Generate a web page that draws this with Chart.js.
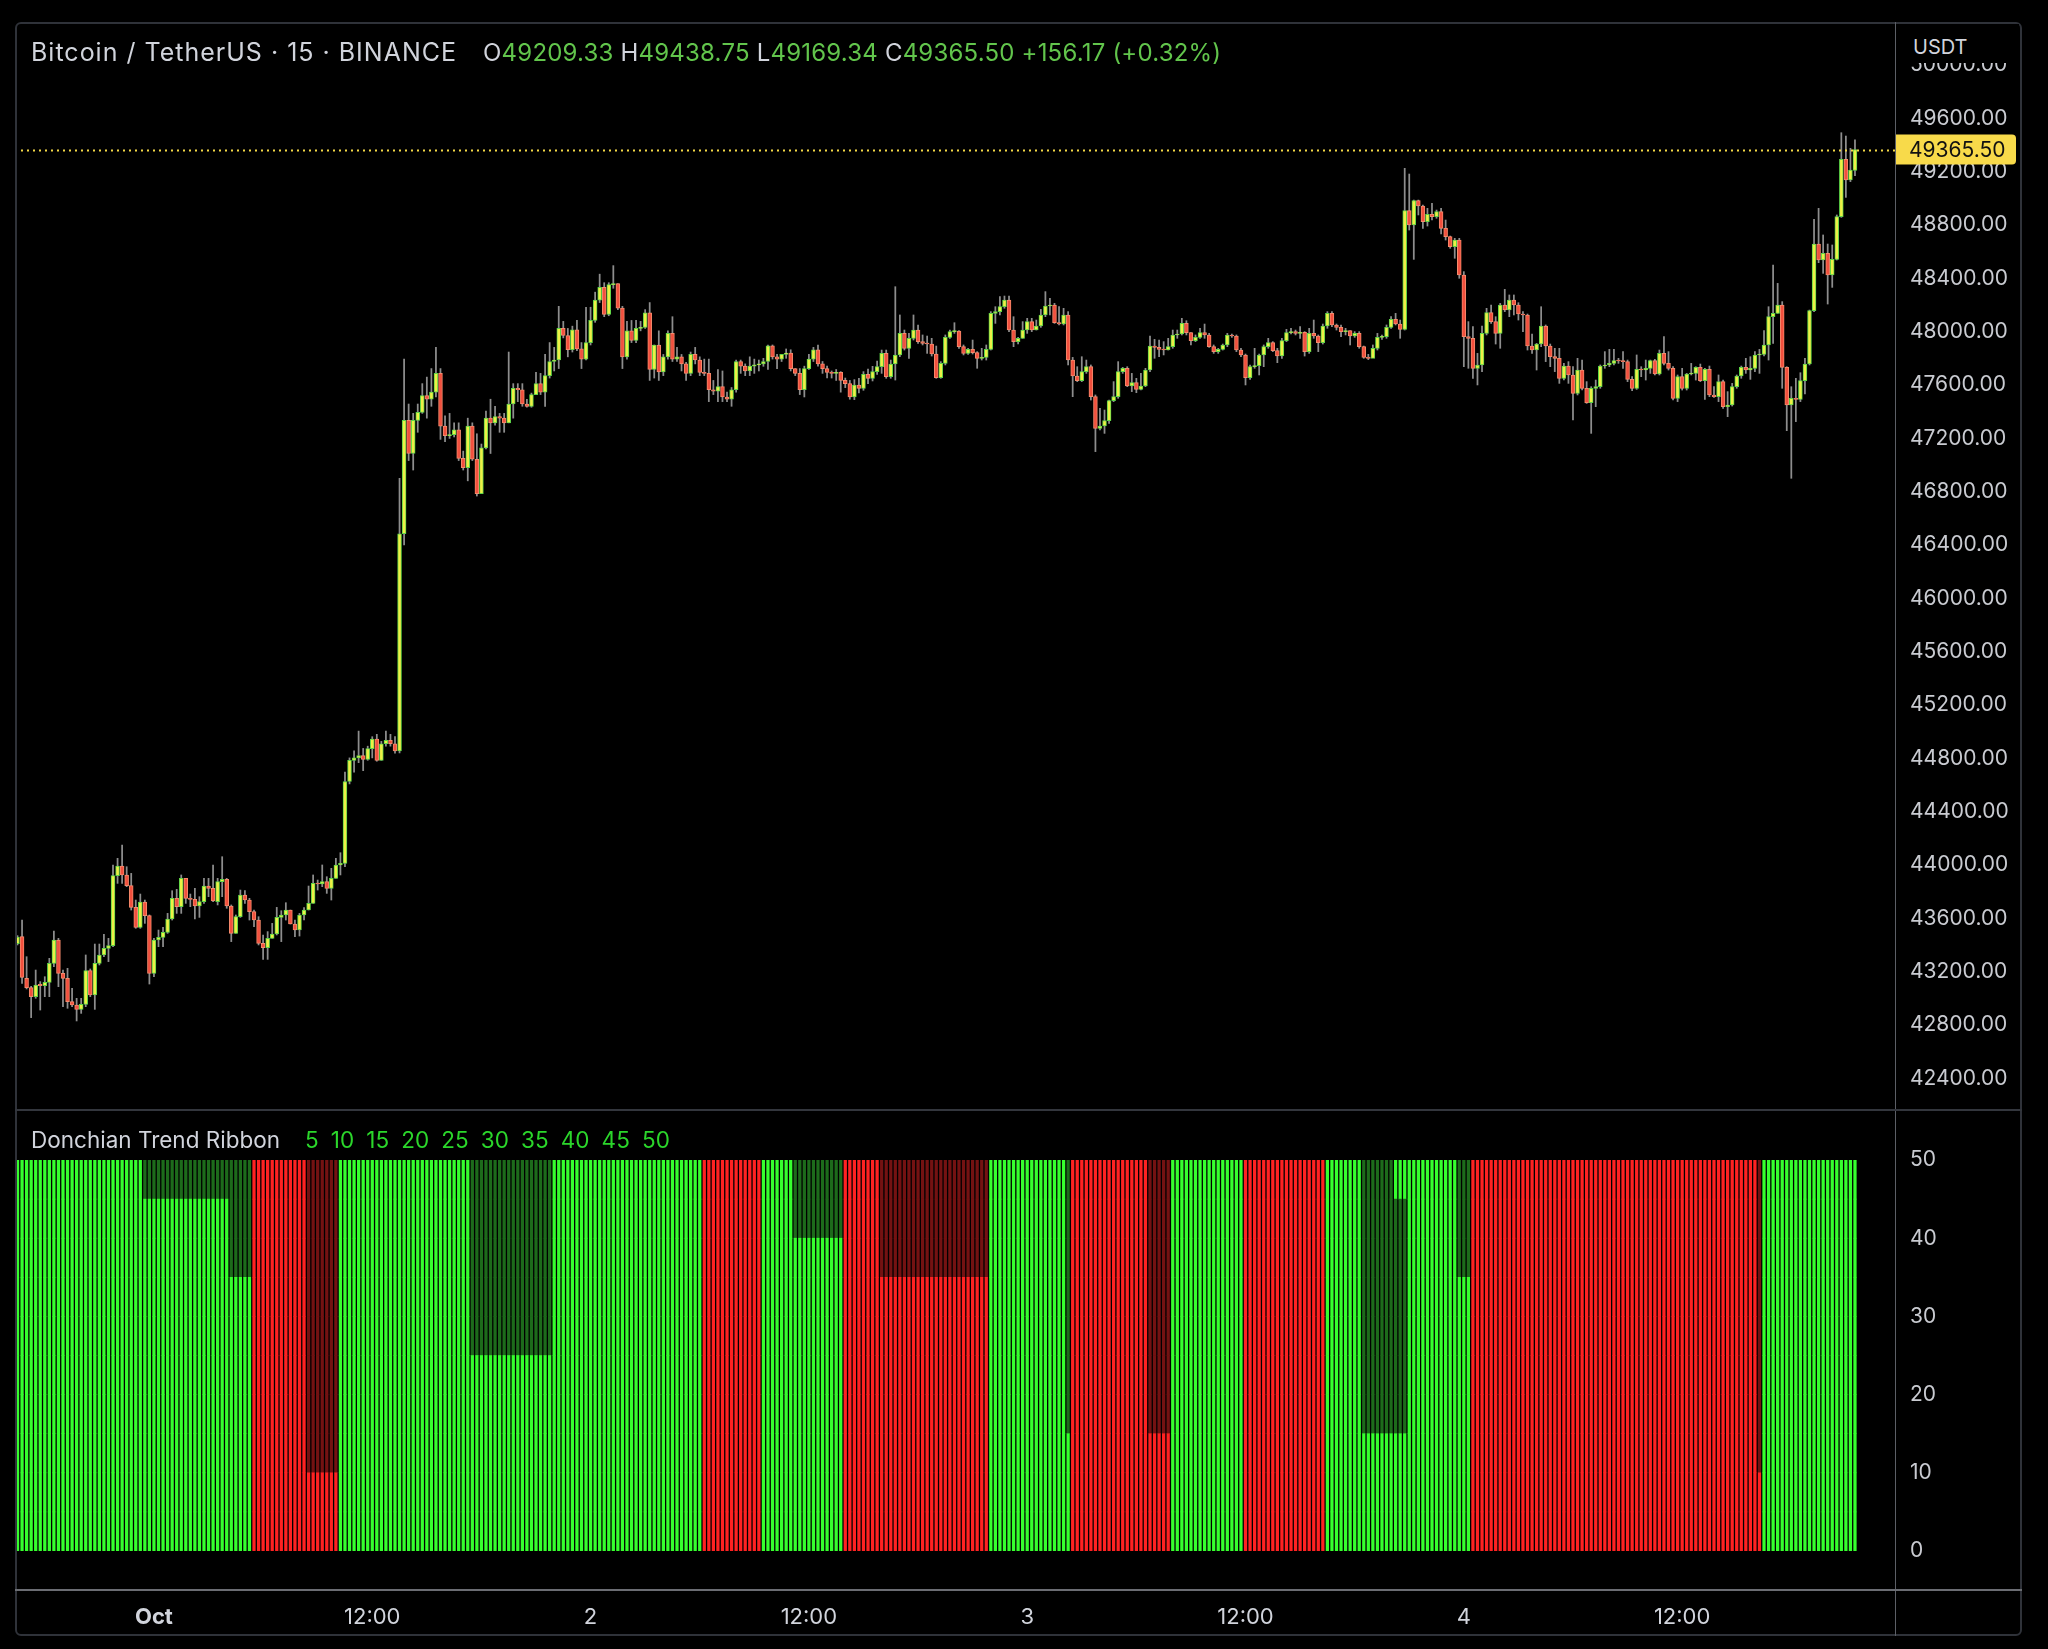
<!DOCTYPE html>
<html>
<head>
<meta charset="utf-8">
<script src="https://cdn.jsdelivr.net/npm/chart.js@4.4.1/dist/chart.umd.min.js"></script>
<style>
    html, body { margin: 0; padding: 0; background: #000; }
    body { width: 2048px; height: 1649px; position: relative; overflow: hidden; font-family: Inter, "Noto Sans", sans-serif; }
    canvas { position: absolute; left: 0; }
    #mainCanvas { top: 0; }
    #ribbonCanvas { top: 1110px; }
    .frame { position: absolute; left: 15px; top: 22px; width: 2007px; height: 1614px; border: 2px solid #2f3239; border-radius: 6px; box-sizing: border-box; }
    .axis-sep { position: absolute; left: 1895px; top: 22px; width: 1px; height: 1614px; background: #5c5f66; }
    .pane-sep { position: absolute; left: 15px; top: 1109px; width: 2007px; height: 2px; background: #33363d; }
    .time-sep { position: absolute; left: 15px; top: 1589px; width: 2007px; height: 2px; background: #6b6d73; }
    .usdt-cover { position: absolute; left: 1897px; top: 24px; width: 122px; height: 39px; background: #000; }
    .usdt { position: absolute; left: 1913px; top: 35px; font-size: 20px; line-height: 24px; color: #d1d4dc; }
    .header { position: absolute; left: 31px; top: 37px; font-size: 24px; line-height: 30px; color: #d1d4dc; white-space: nowrap; }
    .header .title { font-size: 25px; letter-spacing: 1px; }
    .header .ohlc { margin-left: 26px; letter-spacing: 0.2px; }
    .header .v { color: #62c54c; }
    .legend { position: absolute; left: 31px; top: 1126px; font-size: 22.5px; line-height: 28px; color: #d1d4dc; white-space: nowrap; }
    .legend .lens { margin-left: 25px; color: #2bd62b; word-spacing: 5.8px; }
</style>
</head>
<body>
<canvas id="mainCanvas" width="2048" height="1110"></canvas>
<canvas id="ribbonCanvas" width="2048" height="526"></canvas>
<div class="frame"></div>
<div class="axis-sep"></div>
<div class="pane-sep"></div>
<div class="time-sep"></div>
<div class="usdt-cover"></div>
<div class="usdt">USDT</div>
<div class="header"><span class="title">Bitcoin / TetherUS · 15 · BINANCE</span><span class="ohlc">O<span class="v">49209.33</span> H<span class="v">49438.75</span> L<span class="v">49169.34</span> C<span class="v">49365.50</span> <span class="v">+156.17 (+0.32%)</span></span></div>
<div class="legend">Donchian Trend Ribbon<span class="lens">5 10 15 20 25 30 35 40 45 50</span></div>

<script>
// 15 minute bars, bar 0 = Sep 30 16:30, bar 404 = Oct 4 21:30
const opens = [
    43410,43462,43150,43080,43012,43105,43095,43120,43262,43437,
    43187,43150,42975,42950,42917,42955,43207,43025,43262,43325,
    43375,43395,43920,43992,43925,43845,43682,43532,43722,43620,
    43187,43437,43457,43495,43595,43750,43687,43900,43750,43742,
    43692,43725,43842,43825,43725,43875,43892,43692,43487,43612,
    43775,43737,43650,43587,43412,43380,43450,43482,43607,43625,
    43662,43557,43512,43625,43662,43712,43862,43857,43875,43825,
    43900,44000,44012,44626,44785,44803,44820,44792,44873,44944,
    44785,44909,44934,44909,44856,46484,47334,47086,47334,47394,
    47521,47493,47546,47687,47291,47220,47227,47263,47050,46980,
    47291,47043,46785,47128,47351,47316,47362,47351,47316,47457,
    47574,47564,47457,47440,47528,47610,47546,47670,47776,47787,
    48024,47971,47864,48013,47871,47794,47918,48084,48236,48332,
    48130,48353,48360,48176,47811,48006,47935,48024,48031,48141,
    47716,47900,47698,47811,47988,47794,47811,47758,47687,47829,
    47787,47694,47687,47564,47553,47588,47510,47493,47564,47776,
    47741,47705,47741,47751,47758,47776,47893,47811,47794,47829,
    47840,47723,47687,47564,47723,47794,47864,47758,47723,47694,
    47687,47694,47634,47610,47510,47600,47575,47680,47650,47700,
    47737,47837,47662,47757,47825,47987,47875,47950,48012,47925,
    47912,47907,47832,47655,47762,47957,48000,48005,47887,47837,
    47867,47842,47800,47807,47867,48137,48150,48187,48237,48012,
    47925,47950,48012,48075,48012,48042,48125,48192,48200,48067,
    48057,48125,47787,47667,47632,47700,47737,47512,47275,47292,
    47332,47482,47512,47700,47725,47592,47617,47567,47592,47712,
    47892,47882,47867,47862,47887,47975,47982,48062,47992,47932,
    47957,47992,47975,47887,47850,47867,47900,47975,47967,47862,
    47825,47655,47737,47745,47825,47887,47917,47857,47817,47932,
    47992,48000,47987,47995,47850,47987,47967,47917,48042,48137,
    48050,48032,48000,48007,47967,47987,47887,47807,47800,47875,
    47957,47962,48032,48092,48057,48017,48907,48800,48982,48942,
    48825,48880,48862,48900,48775,48712,48637,48687,48425,47962,
    47950,47725,47750,47987,48142,48075,47987,48200,48162,48237,
    48200,48132,48125,47892,47862,47907,48042,47892,47812,47800,
    47650,47742,47675,47537,47712,47575,47467,47575,47587,47742,
    47750,47762,47782,47780,47775,47642,47575,47717,47712,47725,
    47782,47682,47837,47762,47725,47500,47662,47575,47682,47687,
    47732,47632,47717,47525,47512,47625,47437,47450,47587,47667,
    47732,47712,47725,47825,47830,47900,48112,48137,48200,47732,
    47450,47500,47492,47632,47757,48157,48657,48537,48587,48425,
    48542,48862,49292,49137,49209.33
];
const highs = [
    43470,43587,43312,43090,43212,43125,43162,43300,43505,43450,
    43212,43225,43075,43000,43000,43325,43220,43407,43407,43480,
    43450,44000,44050,44150,43987,43937,43737,43782,43737,43625,
    43450,43512,43532,43637,43807,43817,43925,43900,43782,43825,
    43762,43900,43900,44000,43900,44062,43900,43700,43625,43812,
    43807,43750,43662,43612,43475,43500,43562,43682,43657,43717,
    43662,43587,43637,43680,43842,43925,43887,44000,43912,43975,
    44050,44092,44696,44803,44856,45004,44874,44891,44962,44980,
    44927,45004,44980,44962,46900,47794,47457,47387,47457,47610,
    47659,47723,47882,47723,47369,47387,47316,47316,47104,47351,
    47316,47234,47157,47404,47493,47440,47387,47387,47847,47610,
    47610,47610,47493,47539,47694,47687,47829,47918,47882,48190,
    48077,48024,48041,48084,47918,48183,48183,48296,48431,48367,
    48367,48495,48360,48190,48077,48084,48084,48077,48165,48218,
    47900,48006,47829,48006,48112,47882,47829,47770,47847,47882,
    47811,47794,47794,47634,47716,47705,47546,47581,47787,47787,
    47758,47811,47794,47787,47800,47900,47900,47829,47829,47870,
    47864,47723,47723,47741,47829,47882,47900,47776,47741,47705,
    47716,47700,47652,47634,47640,47650,47700,47720,47740,47780,
    47862,47862,47787,48337,48125,48012,47987,48125,48050,47975,
    47967,47950,47892,47775,47975,48012,48067,48007,47900,47875,
    47937,47850,47875,47900,48150,48187,48262,48267,48267,48112,
    47957,48075,48100,48100,48087,48167,48300,48250,48212,48187,
    48175,48150,47807,47737,47812,47787,47750,47525,47425,47412,
    47487,47625,47775,47732,47737,47687,47650,47687,47725,47967,
    47942,47937,47925,47950,48012,48012,48100,48082,47992,47975,
    48025,48057,47987,47900,47875,47907,47987,47982,47975,47875,
    47832,47750,47875,47832,47900,47950,47925,47875,47950,48017,
    48025,48012,48037,48000,48025,48087,47975,48057,48150,48150,
    48057,48050,48025,48007,48000,48000,47892,47830,47900,47987,
    47975,48050,48112,48137,48087,49225,49182,48987,48987,48950,
    48925,48962,48912,48925,48837,48717,48700,48700,48450,48075,
    48037,47837,48042,48175,48200,48112,48212,48317,48275,48275,
    48217,48150,48132,47982,47912,48187,48050,47907,47875,47875,
    47762,47775,47737,47800,47787,47625,47587,47637,47750,47850,
    47867,47867,47800,47850,47787,47662,47825,47737,47787,47787,
    47792,47862,47962,47850,47737,47675,47725,47687,47762,47737,
    47757,47725,47742,47587,47675,47637,47550,47612,47675,47742,
    47800,47812,47850,47867,48007,48187,48500,48362,48225,47737,
    47587,47650,47692,47800,48162,48842,48925,48725,48657,48650,
    48875,49492,49467,49375,49438.75
];
const lows = [
    43400,43112,43070,42855,43000,42912,43012,43012,43237,43087,
    42937,42925,42937,42830,42887,42937,43012,42917,43250,43312,
    43275,43387,43862,43862,43837,43662,43525,43525,43562,43107,
    43162,43387,43387,43487,43587,43637,43637,43712,43687,43595,
    43607,43712,43762,43725,43700,43762,43675,43425,43487,43607,
    43712,43587,43537,43400,43292,43292,43450,43475,43425,43587,
    43557,43462,43467,43587,43662,43712,43812,43837,43787,43737,
    43900,43925,43988,44608,44696,44767,44707,44785,44803,44778,
    44785,44891,44891,44838,44840,46400,47033,46962,47245,47387,
    47351,47440,47510,47192,47174,47199,47210,47033,46962,46881,
    47033,46767,46785,47121,47086,47298,47245,47245,47316,47351,
    47475,47440,47433,47433,47528,47528,47440,47652,47705,47723,
    47953,47811,47847,47857,47723,47787,47900,48070,48218,48112,
    48119,48325,48165,47723,47794,47918,47918,48006,48024,47634,
    47652,47634,47670,47794,47776,47776,47705,47634,47670,47758,
    47670,47670,47475,47528,47475,47475,47475,47440,47546,47687,
    47670,47670,47687,47705,47740,47716,47794,47723,47776,47800,
    47705,47670,47528,47510,47716,47776,47741,47687,47652,47652,
    47634,47546,47580,47493,47490,47540,47560,47610,47630,47680,
    47687,47650,47650,47637,47812,47862,47800,47937,47912,47900,
    47837,47817,47650,47650,47750,47950,47987,47875,47825,47830,
    47832,47725,47787,47787,47862,48062,48125,48175,48000,47887,
    47907,47950,47987,48000,48012,48032,48112,48125,48062,48050,
    48050,47750,47512,47625,47625,47687,47487,47100,47262,47237,
    47312,47475,47500,47687,47587,47550,47542,47562,47587,47700,
    47800,47812,47825,47862,47875,47950,47975,47975,47900,47925,
    47950,47950,47882,47837,47837,47862,47887,47957,47850,47812,
    47600,47642,47725,47675,47737,47875,47850,47767,47800,47925,
    47982,47975,47950,47817,47837,47950,47850,47907,48025,48037,
    48012,47962,47975,47900,47957,47875,47800,47790,47812,47862,
    47942,47950,48025,48050,47950,48012,48762,48542,48875,48775,
    48792,48837,48850,48732,48687,48625,48550,48400,47737,47725,
    47650,47600,47700,47975,48062,47907,47875,48150,48112,48125,
    48087,48000,47862,47837,47712,47887,47775,47737,47700,47612,
    47637,47612,47337,47525,47562,47462,47237,47437,47575,47725,
    47737,47750,47762,47725,47625,47557,47567,47662,47637,47687,
    47675,47675,47750,47712,47487,47475,47562,47562,47675,47637,
    47625,47492,47512,47507,47475,47425,47362,47442,47575,47650,
    47687,47642,47700,47687,47817,47787,47912,48137,47575,47257,
    46900,47325,47475,47532,47750,48150,48517,48437,48207,48332,
    48537,48857,49007,49125,49169.34
];
const closes = [
    43460,43157,43080,43012,43100,43095,43120,43262,43437,43187,
    43150,42975,42950,42917,42955,43207,43025,43262,43325,43375,
    43395,43920,43992,43925,43845,43682,43532,43722,43620,43187,
    43437,43457,43495,43595,43750,43687,43900,43750,43742,43692,
    43725,43842,43825,43730,43875,43892,43692,43487,43612,43775,
    43737,43650,43587,43412,43380,43450,43482,43607,43625,43662,
    43557,43512,43625,43662,43712,43862,43857,43875,43825,43900,
    44000,44012,44626,44785,44803,44820,44792,44873,44944,44785,
    44909,44934,44909,44856,46484,47334,47086,47334,47394,47521,
    47493,47546,47687,47291,47220,47227,47263,47050,46980,47291,
    47043,46785,47128,47351,47316,47362,47351,47316,47457,47574,
    47564,47457,47440,47528,47610,47546,47670,47776,47787,48024,
    47971,47864,48013,47871,47794,47918,48084,48236,48332,48130,
    48353,48360,48176,47811,48006,47935,48024,48031,48141,47716,
    47900,47698,47811,47988,47794,47811,47758,47687,47829,47787,
    47694,47687,47564,47553,47588,47510,47493,47564,47776,47741,
    47705,47741,47751,47758,47776,47893,47811,47794,47829,47840,
    47723,47687,47564,47723,47794,47864,47758,47723,47694,47687,
    47694,47634,47610,47510,47600,47575,47680,47650,47700,47737,
    47837,47662,47757,47825,47987,47875,47950,48012,47925,47912,
    47907,47832,47655,47762,47957,48000,48005,47887,47837,47867,
    47842,47800,47807,47867,48137,48150,48187,48237,48012,47925,
    47950,48012,48075,48012,48042,48125,48192,48200,48067,48057,
    48125,47787,47667,47632,47700,47737,47512,47275,47292,47332,
    47482,47512,47700,47725,47592,47617,47567,47592,47712,47892,
    47882,47867,47862,47887,47975,47982,48062,47992,47932,47957,
    47992,47975,47887,47850,47867,47900,47975,47967,47862,47825,
    47655,47737,47745,47825,47887,47917,47857,47817,47932,47992,
    48000,47987,47995,47850,47987,47967,47917,48042,48137,48050,
    48032,48000,48007,47967,47987,47887,47807,47800,47875,47957,
    47962,48032,48092,48057,48017,48907,48800,48982,48942,48825,
    48880,48862,48900,48775,48712,48637,48687,48425,47962,47950,
    47725,47750,47987,48142,48075,47987,48200,48162,48237,48200,
    48132,48125,47892,47862,47907,48042,47892,47812,47800,47650,
    47742,47675,47537,47712,47575,47467,47575,47587,47742,47750,
    47762,47782,47780,47775,47642,47575,47717,47712,47725,47782,
    47682,47837,47762,47725,47500,47662,47575,47682,47687,47732,
    47632,47717,47525,47512,47625,47437,47450,47587,47667,47732,
    47712,47725,47825,47830,47900,48112,48137,48200,47732,47450,
    47500,47492,47632,47757,48157,48657,48537,48587,48425,48542,
    48862,49292,49137,49212,49365.5
];

const priceTicks = [42400, 42800, 43200, 43600, 44000, 44400, 44800, 45200, 45600, 46000,
    46400, 46800, 47200, 47600, 48000, 48400, 48800, 49200, 49600, 50000];
const timeTickBars = [30, 78, 126, 174, 222, 270, 318, 366];
const timeTickLabels = ['Oct', '12:00', '2', '12:00', '3', '12:00', '4', '12:00'];

// ribbon: trend switches (first bar of each run) and weak bands [from bar, to bar, low value, high value]
const trendStarts = [0, 52, 71, 151, 164, 182, 214, 232, 254, 270, 288, 320, 384];
const trendDirs = [1, -1, 1, -1, 1, -1, 1, -1, 1, -1, 1, -1, 1];
const weakRuns = [
    [28, 46, 45, 50], [47, 51, 35, 50], [64, 70, 10, 50], [100, 117, 25, 50],
    [171, 181, 40, 50], [190, 213, 35, 50], [231, 231, 15, 50], [249, 253, 15, 50],
    [296, 302, 15, 50], [303, 305, 15, 45], [317, 319, 35, 50], [383, 383, 10, 50]
];
const ribbonLevels = [0, 5, 10, 15, 20, 25, 30, 35, 40, 45];
const ribbonTicks = [0, 10, 20, 30, 40, 50];

document.addEventListener('DOMContentLoaded', function () {
    Chart.defaults.font.family = 'Inter, "Noto Sans", sans-serif';
    Chart.defaults.animation = false;

    const xMin = -0.55;
    const xMax = 412.8;
    const priceMin = 42162.25;
    const priceMax = 50322.25;
    const lastClose = closes[closes.length - 1];

    // keep the right axis from eating vertical room for its labels
    const fitRightAxis = s => {
        s.width = 153;
        s.paddingTop = 0;
        s.paddingBottom = 0;
    };

    // 1. Main candle pane
    const bodies = opens.map((o, i) => ({ x: i, y: [o, closes[i]] }));
    const wicks = highs.map((h, i) => ({ x: i, y: [lows[i], h] }));
    const isUp = opens.map((o, i) => closes[i] >= o);

    const lastPricePlugin = {
        id: 'lastPrice',
        afterDatasetsDraw(chart) {
            const { ctx, chartArea, scales } = chart;
            const y = Math.round(scales.y.getPixelForValue(lastClose)) + 0.5;
            ctx.save();
            ctx.strokeStyle = '#f3d846';
            ctx.lineWidth = 2;
            ctx.setLineDash([2, 4]);
            ctx.beginPath();
            ctx.moveTo(chartArea.left, y);
            ctx.lineTo(chartArea.right, y);
            ctx.stroke();
            ctx.restore();
        },
        afterDraw(chart) {
            const { ctx, chartArea, scales } = chart;
            const y = scales.y.getPixelForValue(lastClose);
            const x = chartArea.right;
            ctx.save();
            ctx.fillStyle = '#f8da4a';
            ctx.beginPath();
            ctx.roundRect(x, y - 15, 121, 30, [0, 4, 4, 0]);
            ctx.fill();
            ctx.fillStyle = '#111';
            ctx.font = '21px Inter';
            ctx.textBaseline = 'middle';
            ctx.fillText(lastClose.toFixed(2), x + 14, y + 1);
            ctx.restore();
        }
    };

    new Chart(document.getElementById('mainCanvas'), {
        type: 'bar',
        data: {
            datasets: [{
                data: bodies,
                order: 1,
                grouped: false,
                barThickness: 3.9,
                minBarLength: 1,
                borderWidth: 1,
                borderSkipped: false,
                backgroundColor: isUp.map(u => u ? '#eef046' : '#f2503e'),
                borderColor: isUp.map(u => u ? '#5ed447' : '#f58a6c')
            }, {
                data: wicks,
                order: 2,
                grouped: false,
                barThickness: 1.1,
                backgroundColor: '#8d8d8d'
            }]
        },
        options: {
            responsive: false,
            devicePixelRatio: 1,
            layout: { autoPadding: false, padding: { left: 15, top: 22, right: 0, bottom: 0 } },
            plugins: { legend: { display: false }, tooltip: { enabled: false } },
            scales: {
                x: { type: 'linear', min: xMin, max: xMax, offset: false, display: false },
                y: {
                    position: 'right',
                    min: priceMin,
                    max: priceMax,
                    beginAtZero: false,
                    grid: { display: false, drawTicks: false },
                    border: { display: false },
                    afterFit: fitRightAxis,
                    afterBuildTicks: s => { s.ticks = priceTicks.map(v => ({ value: v })); },
                    ticks: {
                        padding: 15,
                        color: '#c9cbd1',
                        font: { size: 21 },
                        callback: v => v.toFixed(2)
                    }
                }
            }
        },
        plugins: [lastPricePlugin]
    });

    // 2. Donchian trend ribbon pane
    const barIdx = closes.map((c, i) => i);
    const trendAt = i => {
        let d = 1;
        trendStarts.forEach((s, k) => { if (i >= s) d = trendDirs[k]; });
        return d;
    };
    const isWeak = (i, lo) => weakRuns.some(r => i >= r[0] && i <= r[1] && lo >= r[2] && lo < r[3]);

    const ribbonSets = ribbonLevels.map(lo => ({
        data: barIdx.map(i => ({ x: i, y: [lo, lo + 5] })),
        grouped: false,
        barThickness: 2.6,
        backgroundColor: barIdx.map(i => {
            const up = trendAt(i) > 0;
            const weak = isWeak(i, lo);
            if (up) return weak ? '#1d6b1b' : '#36ff2e';
            return weak ? '#741212' : '#ff2222';
        })
    }));

    new Chart(document.getElementById('ribbonCanvas'), {
        type: 'bar',
        data: { datasets: ribbonSets },
        options: {
            responsive: false,
            devicePixelRatio: 1,
            layout: { autoPadding: false, padding: { left: 15, top: 50, right: 0, bottom: 0 } },
            plugins: { legend: { display: false }, tooltip: { enabled: false } },
            scales: {
                x: {
                    type: 'linear', min: xMin, max: xMax, offset: false,
                    grid: { display: false, drawTicks: false },
                    border: { display: false },
                    afterFit: s => { s.height = 85; s.paddingLeft = 0; s.paddingRight = 0; },
                    afterBuildTicks: s => { s.ticks = timeTickBars.map(v => ({ value: v })); },
                    ticks: {
                        padding: 53,
                        maxRotation: 0,
                        autoSkip: false,
                        color: '#d1d4dc',
                        font: ctx => ({ size: 22, weight: ctx.index === 0 ? 'bold' : 'normal' }),
                        callback: (v, idx) => timeTickLabels[idx]
                    }
                },
                y: {
                    position: 'right',
                    min: 0,
                    max: 50,
                    grid: { display: false, drawTicks: false },
                    border: { display: false },
                    afterFit: fitRightAxis,
                    afterBuildTicks: s => { s.ticks = ribbonTicks.map(v => ({ value: v })); },
                    ticks: { padding: 15, color: '#c9cbd1', font: { size: 21 } }
                }
            }
        }
    });
});
</script>
</body>
</html>
